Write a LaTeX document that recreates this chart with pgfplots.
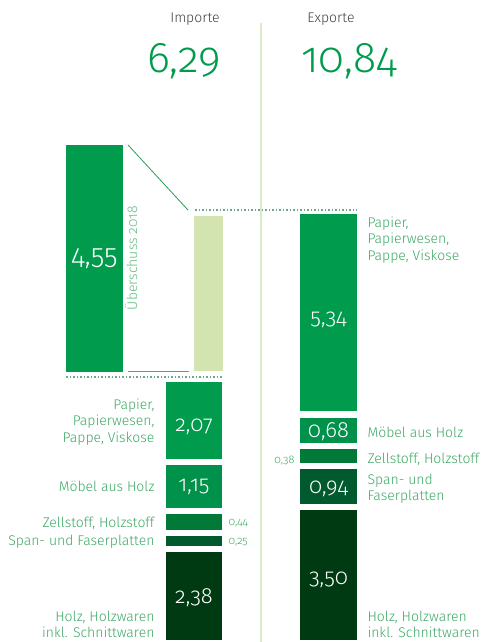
\documentclass[border=0pt]{standalone}
\usepackage{pgfplots}
\pgfplotsset{compat=1.18}
\usepackage{fontspec}
\setmainfont{Fira Sans Light}[RawFeature=+onum]
\definecolor{cPap}{HTML}{009B4C}
\definecolor{cMoe}{HTML}{00914A}
\definecolor{cZel}{HTML}{007A36}
\definecolor{cSpa}{HTML}{005A2E}
\definecolor{cHol}{HTML}{003A12}
\definecolor{cLight}{HTML}{D3E4B1}
\definecolor{cLab}{HTML}{3DA865}
\definecolor{cLine}{HTML}{2A9A55}
\definecolor{cDot}{HTML}{6AAA88}
\definecolor{cBase}{HTML}{4FA87A}
\definecolor{cSep}{HTML}{D8EAC8}
\definecolor{cTitle}{HTML}{404040}
\tikzset{
  lab/.style={font=\fontsize{14}{16.2}\selectfont, text=cLab},
  val/.style={font=\fontsize{22}{24}\selectfont, text=white},
  sm/.style={font=\fontsize{11}{13}\selectfont, text=cLab},
}
\begin{document}
\begin{tikzpicture}
\begin{axis}[
  at={(0,0)}, anchor=south west,
  width=481pt, height=642pt, scale only axis,
  xmin=0, xmax=481, ymin=-0.054, ymax=17.297,
  hide axis, clip=false,
]
% separator
\addplot[cSep, line width=1.2pt] coordinates {(261,16.68) (261,-0.1)};
% Imports stack
\addplot[fill=cHol, draw=none] coordinates {(166,0) (222,0) (222,2.38) (166,2.38)} -- cycle;
\addplot[fill=cSpa, draw=none] coordinates {(166,2.55) (222,2.55) (222,2.80) (166,2.80)} -- cycle;
\addplot[fill=cZel, draw=none] coordinates {(166,2.97) (222,2.97) (222,3.41) (166,3.41)} -- cycle;
\addplot[fill=cMoe, draw=none] coordinates {(166,3.58) (222,3.58) (222,4.73) (166,4.73)} -- cycle;
\addplot[fill=cPap, draw=none] coordinates {(166,4.90) (222,4.90) (222,6.97) (166,6.97)} -- cycle;
% Exports stack
\addplot[fill=cHol, draw=none] coordinates {(300,0) (357,0) (357,3.50) (300,3.50)} -- cycle;
\addplot[fill=cSpa, draw=none] coordinates {(300,3.67) (357,3.67) (357,4.61) (300,4.61)} -- cycle;
\addplot[fill=cZel, draw=none] coordinates {(300,4.78) (357,4.78) (357,5.16) (300,5.16)} -- cycle;
\addplot[fill=cMoe, draw=none] coordinates {(300,5.33) (357,5.33) (357,6.01) (300,6.01)} -- cycle;
\addplot[fill=cPap, draw=none] coordinates {(300,6.18) (357,6.18) (357,11.52) (300,11.52)} -- cycle;
% surplus
\addplot[fill=cPap, draw=none] coordinates {(66,7.24) (123,7.24) (123,13.38) (66,13.38)} -- cycle;
\addplot[fill=cLight, draw=none] coordinates {(194,7.27) (223,7.27) (223,11.46) (194,11.46)} -- cycle;
\addplot[cLine, line width=0.8pt] coordinates {(128,13.38) (188,11.62)};
\addplot[cBase, line width=0.8pt] coordinates {(128,7.27) (189,7.27)};
\addplot[cDot, line width=1.2pt, dash pattern=on 1.5pt off 2pt] coordinates {(66,7.11) (222,7.11)};
\addplot[cDot, line width=1.2pt, dash pattern=on 1.5pt off 2pt] coordinates {(195,11.62) (357,11.62)};
% titles
\node[font=\fontsize{14}{16}\selectfont, text=cTitle] at (axis cs:195,16.78) {Importe};
\node[font=\fontsize{14}{16}\selectfont, text=cTitle] at (axis cs:331,16.78) {Exporte};
\node[font=\fontsize{43}{46}\selectfont, text=cPap, anchor=base] at (axis cs:184,15.35) {6,29};
\node[font=\fontsize{43}{46}\selectfont, text=cPap, anchor=base] at (axis cs:349,15.35) {10,84};
% surplus texts
\node[font=\fontsize{28}{30}\selectfont, text=white] at (axis cs:94.5,10.31) {4,55};
\node[font=\fontsize{14}{16}\selectfont, text=cLab!80, rotate=90] at (axis cs:131,10.32) {Überschuss 2018};
% import labels
\node[lab, anchor=east, align=right] at (axis cs:158,5.89) {Papier,\\Papierwesen,\\Pappe, Viskose};
\node[lab, anchor=east] at (axis cs:158,4.14) {Möbel aus Holz};
\node[lab, anchor=east] at (axis cs:158,3.16) {Zellstoff, Holzstoff};
\node[lab, anchor=east] at (axis cs:158,2.65) {Span- und Faserplatten};
\node[lab, anchor=east, align=right] at (axis cs:158,0.42) {Holz, Holzwaren\\inkl. Schnittwaren};
\node[val] at (axis cs:194,5.76) {2,07};
\node[val] at (axis cs:194,4.14) {1,15};
\node[val] at (axis cs:194,1.14) {2,38};
\node[sm, anchor=west] at (axis cs:225,3.16) {0,44};
\node[sm, anchor=west] at (axis cs:225,2.65) {0,25};
% export labels
\node[lab, anchor=west, align=left] at (axis cs:364,10.81) {Papier,\\Papierwesen,\\Pappe, Viskose};
\node[lab, anchor=west] at (axis cs:364,5.62) {Möbel aus Holz};
\node[lab, anchor=west] at (axis cs:364,4.89) {Zellstoff, Holzstoff};
\node[lab, anchor=west, align=left] at (axis cs:364,4.08) {Span- und\\Faserplatten};
\node[lab, anchor=west, align=left] at (axis cs:364,0.42) {Holz, Holzwaren\\inkl. Schnittwaren};
\node[val] at (axis cs:328.5,8.65) {5,34};
\node[val] at (axis cs:328.5,5.62) {0,68};
\node[val] at (axis cs:328.5,4.08) {0,94};
\node[val] at (axis cs:328.5,1.62) {3,50};
\node[sm, anchor=east] at (axis cs:298,4.86) {0,38};
\end{axis}
\pgfresetboundingbox
\path (0,0) rectangle (481pt,642pt);
\end{tikzpicture}
\end{document}
